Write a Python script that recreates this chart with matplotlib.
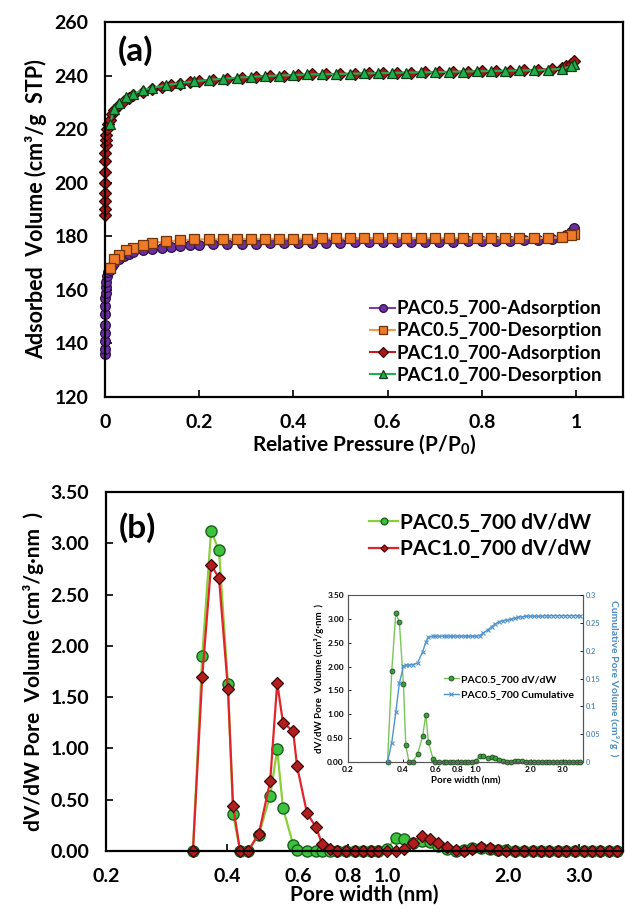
import numpy as np
import matplotlib
matplotlib.use("Agg")
import matplotlib.pyplot as plt
from matplotlib.ticker import FixedLocator, FixedFormatter, NullLocator

plt.rcParams['font.family'] = ['Lato', 'DejaVu Sans']
plt.rcParams['font.weight'] = 'bold'
plt.rcParams['mathtext.default'] = 'regular'

# ---- (a) isotherms ----
p_ads = [0.00001, 0.00003, 0.00006, 0.0001, 0.0002, 0.0004, 0.0007, 0.001, 0.0015, 0.002,
         0.003, 0.005, 0.007, 0.01, 0.015, 0.02, 0.03, 0.04, 0.05, 0.06,
         0.08, 0.10, 0.12, 0.14, 0.16, 0.18, 0.20, 0.23, 0.26, 0.29,
         0.32, 0.35, 0.38, 0.41, 0.44, 0.47, 0.50, 0.53, 0.56, 0.59,
         0.62, 0.65, 0.68, 0.71, 0.74, 0.77, 0.80, 0.83, 0.86, 0.89,
         0.92, 0.95, 0.97, 0.98, 0.99, 0.995]
v05_ads = [136, 138, 141, 144, 147, 151, 154, 157, 159, 161,
           163, 165, 166.5, 167.5, 169, 170, 171.5, 172.5, 173.3, 174,
           174.8, 175.4, 175.8, 176.1, 176.4, 176.6, 176.8, 177.0, 177.1, 177.2,
           177.3, 177.4, 177.4, 177.5, 177.5, 177.6, 177.6, 177.7, 177.7, 177.8,
           177.8, 177.9, 177.9, 178.0, 178.0, 178.1, 178.2, 178.3, 178.4, 178.5,
           178.7, 179.0, 179.6, 180.3, 181.5, 183.0]
v10_ads = [188, 190, 193, 196, 200, 204, 208, 211, 214, 216,
           218, 220, 222, 223.5, 225.5, 227, 229, 230.5, 231.7, 232.6,
           234, 235, 235.8, 236.5, 237, 237.5, 237.9, 238.4, 238.8, 239.2,
           239.5, 239.8, 240.0, 240.2, 240.4, 240.5, 240.6, 240.7, 240.8, 240.9,
           241.0, 241.1, 241.2, 241.3, 241.4, 241.5, 241.6, 241.7, 241.8, 242.0,
           242.2, 242.5, 243.0, 243.6, 244.5, 245.5]

p_des = [0.995, 0.99, 0.97, 0.94, 0.91, 0.88, 0.85, 0.82, 0.79, 0.76,
         0.73, 0.70, 0.67, 0.64, 0.61, 0.58, 0.55, 0.52, 0.49, 0.46,
         0.43, 0.40, 0.37, 0.34, 0.31, 0.28, 0.25, 0.22, 0.19, 0.16,
         0.13, 0.10, 0.08, 0.06, 0.045, 0.03, 0.02, 0.01]
v05_des = [181.0, 180.3, 179.6, 179.4, 179.3, 179.3, 179.3, 179.3, 179.3, 179.3,
           179.3, 179.3, 179.3, 179.3, 179.3, 179.3, 179.2, 179.2, 179.2, 179.2,
           179.1, 179.1, 179.1, 179.0, 179.0, 179.0, 178.9, 178.9, 178.8, 178.5,
           178.1, 177.5, 176.8, 175.8, 174.7, 173.0, 171.5, 168.0]
v10_des = [244.5, 243.5, 242.5, 242.2, 242.0, 241.9, 241.8, 241.7, 241.6, 241.5,
           241.4, 241.3, 241.2, 241.1, 241.0, 240.9, 240.8, 240.7, 240.6, 240.5,
           240.4, 240.2, 240.0, 239.8, 239.5, 239.2, 238.8, 238.4, 237.8, 237.2,
           236.4, 235.4, 234.5, 233.2, 232.0, 229.8, 227.5, 222.0]

# ---- (b) pore size distribution ----
width = [0.329, 0.347, 0.365, 0.382, 0.402, 0.414, 0.431, 0.451, 0.480, 0.512,
         0.533, 0.551, 0.584, 0.597, 0.632, 0.666, 0.689, 0.72, 0.75, 0.79,
         0.83, 0.87, 0.91, 0.95, 1.00, 1.05, 1.10, 1.16, 1.22, 1.28,
         1.34, 1.41, 1.48, 1.55, 1.63, 1.71, 1.80, 1.89, 1.98, 2.08,
         2.19, 2.30, 2.41, 2.53, 2.66, 2.79, 2.93, 3.08, 3.23, 3.39,
         3.56, 3.74]
dvdw05 = [0.0, 1.90, 3.12, 2.93, 1.63, 0.36, 0.0, 0.0, 0.16, 0.54,
          0.99, 0.42, 0.06, 0.01, 0.0, 0.0, 0.0, 0.0, 0.0, 0.0,
          0.0, 0.0, 0.0, 0.0, 0.02, 0.13, 0.12, 0.08, 0.10, 0.09,
          0.05, 0.02, 0.0, 0.01, 0.03, 0.03, 0.02, 0.01, 0.01, 0.0,
          0.0, 0.0, 0.0, 0.0, 0.0, 0.0, 0.0, 0.0, 0.0, 0.0,
          0.0, 0.0]
dvdw10 = [0.0, 1.70, 2.79, 2.66, 1.58, 0.44, 0.0, 0.0, 0.17, 0.68,
          1.64, 1.25, 1.17, 0.83, 0.37, 0.23, 0.07, 0.02, 0.0, 0.0,
          0.0, 0.0, 0.0, 0.0, 0.0, 0.0, 0.02, 0.08, 0.15, 0.12,
          0.08, 0.04, 0.01, 0.0, 0.02, 0.04, 0.03, 0.01, 0.0, 0.0,
          0.0, 0.0, 0.0, 0.0, 0.0, 0.0, 0.0, 0.0, 0.0, 0.0,
          0.0, 0.0]
cum05 = [0.0, 0.035, 0.089, 0.142, 0.172, 0.174, 0.174, 0.175, 0.178, 0.198,
         0.215, 0.224, 0.226, 0.226, 0.226, 0.226, 0.226, 0.226, 0.226, 0.226,
         0.226, 0.226, 0.226, 0.226, 0.226, 0.227, 0.232, 0.237, 0.243, 0.248,
         0.252, 0.254, 0.255, 0.256, 0.258, 0.260, 0.261, 0.262, 0.262, 0.262,
         0.262, 0.262, 0.263, 0.263, 0.263, 0.263, 0.263, 0.263, 0.263, 0.263,
         0.263, 0.263]

w_ticks = [0.2, 0.4, 0.6, 0.8, 1.0, 2.0, 3.0]
w_labels = ['0.2', '0.4', '0.6', '0.8', '1.0', '2.0', '3.0']

W, H = 625, 914
fig = plt.figure(figsize=(W / 100, H / 100), dpi=100)


def fbox(l, t, r, b):
    return [l / W, 1 - b / H, (r - l) / W, (b - t) / H]


def style(ax, size, pad, lw=1.6):
    for s in ax.spines.values():
        s.set_linewidth(lw)
    ax.tick_params(direction='in', length=5, width=1.2, labelsize=size, pad=pad)
    for lab in ax.get_xticklabels() + ax.get_yticklabels():
        lab.set_fontweight('bold')


# ---------- panel (a) ----------
ax1 = fig.add_axes(fbox(105, 22, 623, 397))
kw = dict(markersize=7, markeredgewidth=0.9, linewidth=1.5, clip_on=False)
ax1.plot(p_ads, v05_ads, '-o', color='#7A3DB0', mfc='#6A2FA0', mec='#2E1248',
         label='PAC0.5_700-Adsorption', **kw)
ax1.plot(p_des, v05_des, '-s', color='#F39A45', mfc='#EE7A2A', mec='#6E3306',
         label='PAC0.5_700-Desorption', **kw)
ax1.plot(p_ads, v10_ads, '-D', color='#D01818', mfc='#A81818', mec='#3E0505',
         label='PAC1.0_700-Adsorption', **dict(kw, markersize=6))
ax1.plot(p_des, v10_des, '-^', color='#20B050', mfc='#1FB04C', mec='#0B3D18',
         label='PAC1.0_700-Desorption', **dict(kw, markersize=7.5))
ax1.set_xlim(0, 1.1)
ax1.set_ylim(120, 260)
ax1.set_xticks([0, 0.2, 0.4, 0.6, 0.8, 1.0])
ax1.set_xticklabels(['0', '0.2', '0.4', '0.6', '0.8', '1'])
ax1.set_yticks(np.arange(120, 261, 20))
style(ax1, 14, 12)
ax1.set_xlabel('Relative Pressure (P/P$_0$)', fontsize=15, fontweight='bold', labelpad=1)
ax1.set_ylabel('Adsorbed  Volume (cm³/g  STP)', fontsize=15.5, fontweight='bold', labelpad=5)
ax1.text(0.025, 0.925, '(a)', transform=ax1.transAxes, fontsize=24, fontweight='bold',
         va='center', ha='left')
leg1 = ax1.legend(loc='lower right', bbox_to_anchor=(0.985, 0.0), frameon=False,
                  fontsize=13.5, handlelength=1.3, handletextpad=0.1, labelspacing=0.28,
                  borderaxespad=0.3, markerscale=0.8)
for t in leg1.get_texts():
    t.set_fontweight('bold')

# ---------- panel (b) ----------
ax2 = fig.add_axes(fbox(106, 492, 623, 851))
ax2.plot(width, dvdw05, '-o', color='#8ACF3A', mfc='#3CC23C', mec='#1B5E20',
         markersize=8, markeredgewidth=1.0, linewidth=1.6, clip_on=False,
         label='PAC0.5_700 dV/dW')
ax2.plot(width, dvdw10, '-D', color='#E0242A', mfc='#B01E1E', mec='#400404',
         markersize=6, markeredgewidth=0.9, linewidth=1.6, clip_on=False,
         label='PAC1.0_700 dV/dW')
ax2.set_xscale('log')
ax2.set_xlim(0.2, 3.86)
ax2.set_ylim(0, 3.5)
ax2.xaxis.set_major_locator(FixedLocator(w_ticks))
ax2.xaxis.set_major_formatter(FixedFormatter(w_labels))
ax2.xaxis.set_minor_locator(NullLocator())
ax2.set_yticks(np.arange(0, 3.51, 0.5))
ax2.set_yticklabels(['%.2f' % v for v in np.arange(0, 3.51, 0.5)])
style(ax2, 14, 12)
ax2.set_xlabel('Pore width (nm)', fontsize=15, fontweight='bold', labelpad=0)
ax2.set_ylabel('dV/dW Pore  Volume (cm³/g·nm  )', fontsize=15,
               fontweight='bold', labelpad=5)
ax2.text(0.025, 0.90, '(b)', transform=ax2.transAxes, fontsize=24, fontweight='bold',
         va='center', ha='left')
leg2 = ax2.legend(loc='upper right', bbox_to_anchor=(0.975, 0.995), frameon=False,
                  fontsize=15, handlelength=1.4, handletextpad=0.1, labelspacing=0.3,
                  markerscale=0.6)
for t in leg2.get_texts():
    t.set_fontweight('bold')

# ---------- inset ----------
ax3 = fig.add_axes(fbox(348, 595, 583, 762))
l1, = ax3.plot(width, dvdw05, '-o', color='#78C65A', mfc='#3E9E3E', mec='#1A4D1A',
               markersize=3.5, markeredgewidth=0.6, linewidth=1.0, clip_on=False,
               label='PAC0.5_700 dV/dW')
ax3.set_xscale('log')
ax3.set_xlim(0.2, 3.86)
ax3.set_ylim(0, 3.5)
ax3.xaxis.set_major_locator(FixedLocator(w_ticks))
ax3.xaxis.set_major_formatter(FixedFormatter(w_labels))
ax3.xaxis.set_minor_locator(NullLocator())
ax3.set_yticks(np.arange(0, 3.51, 0.5))
ax3.set_yticklabels(['%.2f' % v for v in np.arange(0, 3.51, 0.5)])
ax3.set_xlabel('Pore width (nm)', fontsize=7, fontweight='bold', labelpad=2)
ax3.set_ylabel('dV/dW Pore  Volume (cm³/g·nm  )', fontsize=7,
               fontweight='bold', labelpad=2)
ax4 = ax3.twinx()
l2, = ax4.plot(width, cum05, '-x', color='#4F94CD', markersize=3.5, markeredgewidth=0.8,
               linewidth=1.0, clip_on=False, label='PAC0.5_700 Cumulative')
ax4.set_ylim(0, 0.3)
ax4.set_yticks([0, 0.05, 0.1, 0.15, 0.2, 0.25, 0.3])
ax4.set_yticklabels(['0', '0.05', '0.1', '0.15', '0.2', '0.25', '0.3'])
ax4.set_ylabel('Cumulative Pore Volume (cm³/g  )', fontsize=7.5, fontweight='bold',
               color='#4A8BC2', rotation=-90, va='center')
ax4.yaxis.set_label_coords(1.13, 0.5)
for a in (ax3, ax4):
    for s in a.spines.values():
        s.set_linewidth(0.8)
        s.set_color('#555555')
    a.tick_params(direction='in', length=2, width=0.6, labelsize=6, pad=3)
    for lab in a.get_xticklabels() + a.get_yticklabels():
        lab.set_fontweight('bold')
ax4.tick_params(axis='y', labelcolor='#5A8FB5', labelsize=5.3, pad=2)
ax4.spines['top'].set_visible(False)
leg3 = ax3.legend(handles=[l1, l2], loc='center right', bbox_to_anchor=(1.0, 0.45),
                  frameon=False, fontsize=7.5, handlelength=1.4, handletextpad=0.2,
                  labelspacing=0.6)
for t in leg3.get_texts():
    t.set_fontweight('bold')

fig.savefig('out.png', dpi=100)
